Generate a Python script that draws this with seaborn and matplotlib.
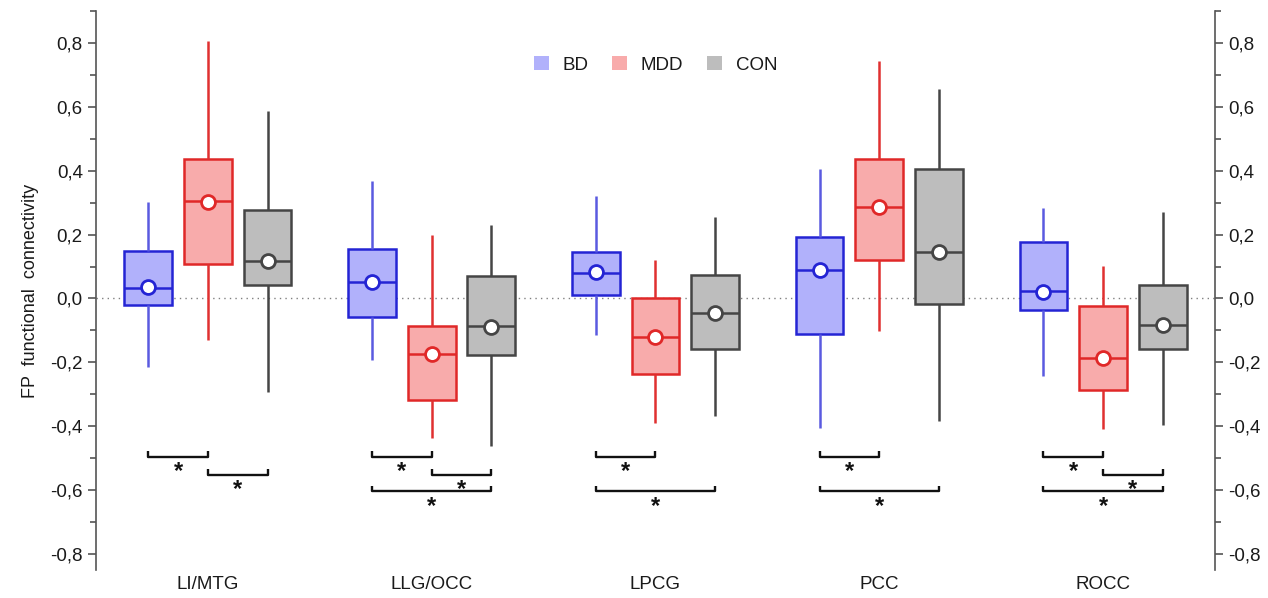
import pandas as pd
import matplotlib
matplotlib.use('Agg')
import matplotlib.pyplot as plt
from matplotlib.ticker import FuncFormatter, MultipleLocator
from matplotlib.patches import Patch
import seaborn as sns

# Values
regions = ['LI/MTG', 'LLG/OCC', 'LPCG', 'PCC', 'ROCC']
groups = ['BD', 'MDD', 'CON']

# five-number summaries per region: [whisker low, q1, median, q3, whisker high]
bd_stats = [[-0.213, -0.020, 0.033, 0.149, 0.301],
            [-0.194, -0.058, 0.051, 0.156, 0.367],
            [-0.115, 0.012, 0.080, 0.146, 0.321],
            [-0.404, -0.111, 0.090, 0.192, 0.406],
            [-0.243, -0.037, 0.024, 0.177, 0.283]]
mdd_stats = [[-0.131, 0.108, 0.305, 0.437, 0.807],
             [-0.437, -0.317, -0.173, -0.086, 0.198],
             [-0.389, -0.237, -0.119, 0.001, 0.119],
             [-0.101, 0.120, 0.286, 0.437, 0.744],
             [-0.407, -0.288, -0.187, -0.025, 0.102]]
con_stats = [[-0.294, 0.042, 0.118, 0.276, 0.587],
             [-0.461, -0.177, -0.086, 0.069, 0.230],
             [-0.368, -0.158, -0.044, 0.073, 0.256],
             [-0.383, -0.018, 0.145, 0.405, 0.655],
             [-0.395, -0.158, -0.082, 0.042, 0.271]]

bd_means = [0.037, 0.051, 0.082, 0.090, 0.021]
mdd_means = [0.301, -0.173, -0.121, 0.286, -0.187]
con_means = [0.118, -0.088, -0.044, 0.145, -0.082]

# significant pairs per region (group a, group b, bracket level)
sig_pairs = {
    'LI/MTG': [('BD', 'MDD', -0.496), ('MDD', 'CON', -0.552)],
    'LLG/OCC': [('BD', 'MDD', -0.496), ('MDD', 'CON', -0.552), ('BD', 'CON', -0.604)],
    'LPCG': [('BD', 'MDD', -0.496), ('BD', 'CON', -0.604)],
    'PCC': [('BD', 'MDD', -0.496), ('BD', 'CON', -0.604)],
    'ROCC': [('BD', 'MDD', -0.496), ('MDD', 'CON', -0.552), ('BD', 'CON', -0.604)],
}

face = {'BD': '#b1b1fb', 'MDD': '#f8abab', 'CON': '#bdbdbd'}
edge = {'BD': '#2424d4', 'MDD': '#e02828', 'CON': '#454545'}
whisk = {'BD': '#5a5ae0', 'MDD': '#e03030', 'CON': '#454545'}
txt = '#1a1a1a'

# long tables
rows = []
for g, stats in zip(groups, [bd_stats, mdd_stats, con_stats]):
    for r, vals in zip(regions, stats):
        for v in vals:
            rows.append({'region': r, 'group': g, 'value': v})
box_df = pd.DataFrame(rows)

mean_rows = []
for g, means in zip(groups, [bd_means, mdd_means, con_means]):
    for r, m in zip(regions, means):
        mean_rows.append({'region': r, 'group': g, 'mean': m})
mean_df = pd.DataFrame(mean_rows)

sns.set_style('white')
plt.rcParams['font.family'] = ['Liberation Sans', 'DejaVu Sans']
plt.rcParams['axes.unicode_minus'] = False
plt.rcParams['text.color'] = txt
plt.rcParams['xtick.color'] = txt
plt.rcParams['ytick.color'] = txt
plt.rcParams['axes.labelcolor'] = txt

fig = plt.figure(figsize=(12.68, 5.98), dpi=100)
ax = fig.add_axes([0.0757, 0.0468, 0.8825, 0.9348])

ax.axhline(0, color='#808080', lw=1, ls=(0, (1, 3)), zorder=0)

for g in groups:
    sub = box_df[box_df['group'] == g]
    sns.boxplot(data=sub, x='region', y='value', hue='group', order=regions,
                hue_order=groups, palette=face, saturation=1, dodge=True,
                width=0.8, gap=0.2, whis=(0, 100), showfliers=False,
                showcaps=False, linecolor=edge[g], linewidth=1.8,
                whiskerprops={'color': whisk[g]}, legend=False, ax=ax)

for g in groups:
    sub = mean_df[mean_df['group'] == g]
    sns.stripplot(data=sub, x='region', y='mean', hue='group', order=regions,
                  hue_order=groups, palette={k: 'white' for k in groups},
                  dodge=True, jitter=False, size=10, edgecolor=edge[g],
                  linewidth=2, legend=False, ax=ax, zorder=5)

# significance brackets
offs = {'BD': -0.8 / 3, 'MDD': 0.0, 'CON': 0.8 / 3}
for i, r in enumerate(regions):
    for a, b, lev in sig_pairs[r]:
        x0, x1 = i + offs[a], i + offs[b]
        ax.plot([x0, x0, x1, x1], [lev + 0.018, lev, lev, lev + 0.018],
                color='#111111', lw=1.7, solid_capstyle='butt')
        ax.text((x0 + x1) / 2, lev - 0.01, '*', ha='center', va='top',
                fontsize=17, fontweight='bold', color='#111111')

ax.set_xlim(-0.5, 4.5)
ax.set_ylim(-0.85, 0.9)
ax.set_xlabel('')
ax.set_ylabel('FP  functional  connectivity', fontsize=13, labelpad=8)
ax.tick_params(axis='x', length=0, labelsize=13.5, pad=4)

fmt = FuncFormatter(lambda v, p: f'{v:.1f}'.replace('.', ','))
ax.yaxis.set_major_locator(MultipleLocator(0.2))
ax.yaxis.set_minor_locator(MultipleLocator(0.1))
ax.yaxis.set_major_formatter(fmt)
ax.tick_params(axis='y', which='major', direction='out', length=6, width=1.2,
               color='#555555', labelsize=13.5, left=True)
ax.tick_params(axis='y', which='minor', direction='out', length=4, width=1.2,
               color='#555555', left=True)

ax2 = ax.twinx()
ax2.set_ylim(ax.get_ylim())
ax2.yaxis.set_major_locator(MultipleLocator(0.2))
ax2.yaxis.set_minor_locator(MultipleLocator(0.1))
ax2.yaxis.set_major_formatter(fmt)
ax2.tick_params(axis='y', which='major', direction='out', length=6, width=1.2,
                color='#555555', labelsize=13.5, right=True)
ax2.tick_params(axis='y', which='minor', direction='out', length=4, width=1.2,
                color='#555555', right=True)

for a in (ax, ax2):
    a.spines['top'].set_visible(False)
    a.spines['bottom'].set_visible(False)
    a.spines['left'].set_color('#555555')
    a.spines['right'].set_color('#555555')
    a.spines['left'].set_linewidth(1.2)
    a.spines['right'].set_linewidth(1.2)
ax.spines['right'].set_visible(False)
ax2.spines['left'].set_visible(False)

handles = [Patch(facecolor=face[g], edgecolor='none', label=g) for g in groups]
ax.legend(handles=handles, loc='upper center', bbox_to_anchor=(0.5, 0.95),
          ncol=3, frameon=False, fontsize=13.5, handlelength=0.8,
          handleheight=0.8, columnspacing=1.3, handletextpad=0.7)

plt.savefig('out.png', dpi=100)
plt.close()
